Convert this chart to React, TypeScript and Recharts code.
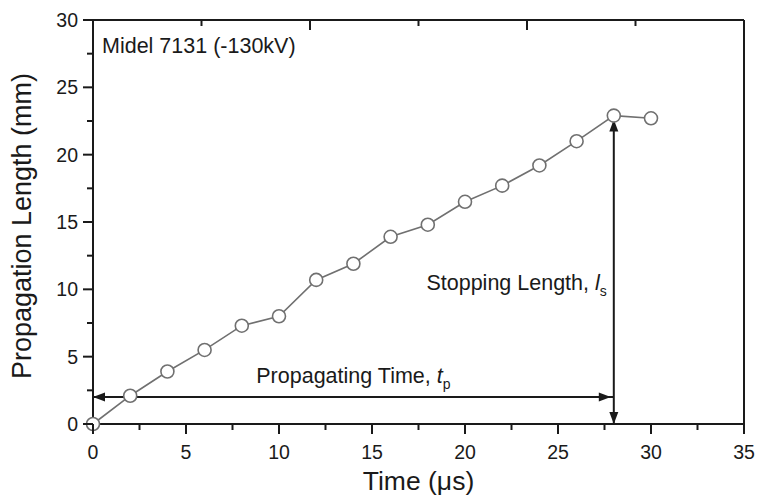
import React from 'react';
import { LineChart, Line, XAxis, YAxis, ReferenceLine, Label } from 'recharts';

// data (Midel 7131, -130 kV)
const timeUs = [0, 2, 4, 6, 8, 10, 12, 14, 16, 18, 20, 22, 24, 26, 28, 30];
const lengthMm = [0, 2.1, 3.9, 5.5, 7.3, 8.0, 10.7, 11.9, 13.9, 14.8, 16.5, 17.7, 19.2, 21.0, 22.9, 22.7];

const xTicks = [0, 2.5, 5, 7.5, 10, 12.5, 15, 17.5, 20, 22.5, 25, 27.5, 30, 32.5, 35];
const yTicks = [0, 2.5, 5, 7.5, 10, 12.5, 15, 17.5, 20, 22.5, 25, 27.5, 30];

const stopTime = 28;
const stopLength = 22.9;
const arrowLevel = 2;

const FONT = '"Liberation Sans", Arial, sans-serif';
const INK = '#1a1a1a';

const data = timeUs.map((t, i) => ({ t, len: lengthMm[i] }));

const isMajor = (v: number) => Math.abs(v % 5) < 1e-6;

const BottomTick = (props: any) => {
  const { x, y, payload } = props;
  const major = isMajor(payload.value);
  return (
    <g>
      <line x1={x} x2={x} y1={y} y2={y + (major ? 10 : 6)} stroke={INK} strokeWidth={2} />
      {major && (
        <text x={x} y={y + 35} textAnchor="middle" fontSize={19.5} fontFamily={FONT} fill={INK}>
          {payload.value}
        </text>
      )}
    </g>
  );
};

const TopTick = (props: any) => {
  const { x, y, payload } = props;
  const major = isMajor(payload.value);
  return <line x1={x} x2={x} y1={y} y2={y + (major ? 10 : 6)} stroke={INK} strokeWidth={2} />;
};

const LeftTick = (props: any) => {
  const { x, y, payload } = props;
  const major = isMajor(payload.value);
  return (
    <g>
      <line x1={x - (major ? 10 : 6)} x2={x} y1={y} y2={y} stroke={INK} strokeWidth={2} />
      {major && (
        <text x={x - 15} y={y + 7} textAnchor="end" fontSize={19.5} fontFamily={FONT} fill={INK}>
          {payload.value}
        </text>
      )}
    </g>
  );
};

const RightTick = (props: any) => {
  const { x, y, payload } = props;
  const major = isMajor(payload.value);
  return <line x1={x - (major ? 10 : 6)} x2={x} y1={y} y2={y} stroke={INK} strokeWidth={2} />;
};

const head = (tx: number, ty: number, ang: number) => {
  const L = 12;
  const W = 4.5;
  const bx = tx - L * Math.cos(ang);
  const by = ty - L * Math.sin(ang);
  const px = -Math.sin(ang) * W;
  const py = Math.cos(ang) * W;
  return `${tx},${ty} ${bx + px},${by + py} ${bx - px},${by - py}`;
};

const TimeArrow = (props: any) => {
  const { x1, y1, x2, y2 } = props;
  const ang = Math.atan2(y2 - y1, x2 - x1);
  return (
    <g>
      <line x1={x1} y1={y1} x2={x2} y2={y2} stroke={INK} strokeWidth={2} />
      <polygon points={head(x1, y1, ang + Math.PI)} fill={INK} />
      <polygon points={head(x2 - 3, y2, ang)} fill={INK} />
      <text x={(x1 + x2) / 2} y={y1 - 14} textAnchor="middle" fontSize={21.5} fontFamily={FONT} fill={INK}>
        Propagating Time,{' '}
        <tspan fontStyle="italic">t</tspan>
        <tspan dy={6} fontSize={14}>p</tspan>
      </text>
    </g>
  );
};

const LengthArrow = (props: any) => {
  const { x1, y1, x2, y2 } = props;
  const ang = Math.atan2(y2 - y1, x2 - x1);
  return (
    <g>
      <line x1={x1} y1={y1} x2={x2} y2={y2} stroke={INK} strokeWidth={2} />
      <polygon points={head(x1, y1, ang + Math.PI)} fill={INK} />
      <polygon points={head(x2, y2 + 4, ang)} fill={INK} />
      <text x={x1 - 7} y={(y1 + y2) / 2 + 20} textAnchor="end" fontSize={21.5} fontFamily={FONT} fill={INK}>
        Stopping Length,{' '}
        <tspan fontStyle="italic">l</tspan>
        <tspan dy={6} fontSize={14}>s</tspan>
      </text>
    </g>
  );
};

const YTitle = (props: any) => {
  const { viewBox } = props;
  const cx = viewBox.x + 31;
  const cy = viewBox.y + viewBox.height / 2 + 4;
  return (
    <text x={cx} y={cy} transform={`rotate(-90 ${cx} ${cy})`} textAnchor="middle" fontSize={27} fontFamily={FONT} fill={INK}>
      Propagation Length (mm)
    </text>
  );
};

export default function App() {
  return (
    <div style={{ position: 'absolute', left: 0, top: 0, width: 759, height: 496, background: '#fff' }}>
      <LineChart width={759} height={496} data={data} margin={{ top: 19, right: 14, bottom: 0, left: 0 }}>
        <XAxis
          xAxisId="b"
          dataKey="t"
          type="number"
          domain={[0, 35]}
          ticks={xTicks}
          interval={0}
          height={72}
          tickSize={0}
          tickMargin={0}
          tickLine={false}
          tick={<BottomTick />}
          axisLine={{ stroke: INK, strokeWidth: 2 }}
        >
          <Label value="Time (μs)" position="insideBottom" offset={6} fontSize={26.5} fontFamily={FONT} fill={INK} />
        </XAxis>
        <XAxis
          xAxisId="t"
          orientation="top"
          type="number"
          domain={[0, 35]}
          ticks={xTicks}
          interval={0}
          height={1}
          tickSize={0}
          tickMargin={0}
          tickLine={false}
          tick={<TopTick />}
          axisLine={{ stroke: INK, strokeWidth: 2 }}
        />
        <YAxis
          yAxisId="l"
          type="number"
          domain={[0, 30]}
          ticks={yTicks}
          interval={0}
          width={93}
          tickSize={0}
          tickMargin={0}
          tickLine={false}
          tick={<LeftTick />}
          axisLine={{ stroke: INK, strokeWidth: 2 }}
        >
          <Label content={<YTitle />} />
        </YAxis>
        <YAxis
          yAxisId="r"
          orientation="right"
          type="number"
          domain={[0, 30]}
          ticks={yTicks}
          interval={0}
          width={1}
          tickSize={0}
          tickMargin={0}
          tickLine={false}
          tick={<RightTick />}
          axisLine={{ stroke: INK, strokeWidth: 2 }}
        />
        <ReferenceLine
          xAxisId="b"
          yAxisId="l"
          segment={[{ x: 0, y: arrowLevel }, { x: stopTime, y: arrowLevel }]}
          shape={<TimeArrow />}
        />
        <ReferenceLine
          xAxisId="b"
          yAxisId="l"
          segment={[{ x: stopTime, y: 0 }, { x: stopTime, y: stopLength }]}
          shape={<LengthArrow />}
        />
        <Line
          xAxisId="b"
          yAxisId="l"
          dataKey="len"
          type="linear"
          stroke="#707070"
          strokeWidth={1.6}
          dot={{ r: 6.5, stroke: '#707070', strokeWidth: 1.6, fill: '#fff' }}
          isAnimationActive={false}
        />
        <text x={102} y={53} fontSize={21.5} fontFamily={FONT} fill={INK}>
          Midel 7131 (-130kV)
        </text>
      </LineChart>
    </div>
  );
}
